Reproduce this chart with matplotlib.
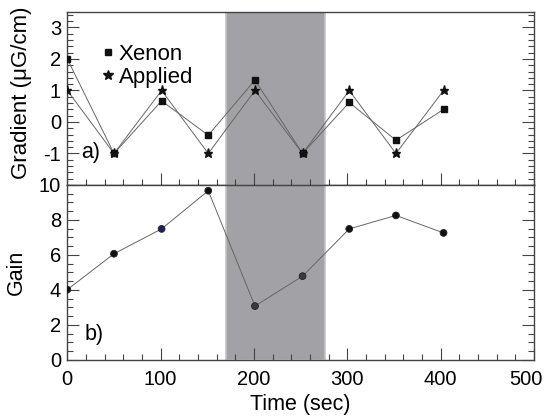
import numpy as np
import matplotlib
matplotlib.use("Agg")
import matplotlib.pyplot as plt
from matplotlib.lines import Line2D
from matplotlib.ticker import MultipleLocator, FixedFormatter

plt.rcParams['font.family'] = ['Liberation Sans', 'DejaVu Sans']
plt.rcParams['axes.unicode_minus'] = False

# data
time = [0, 50, 101, 151, 201, 252, 302, 352, 403]
xenon = [2.0, -1.0, 0.67, -0.42, 1.33, -1.0, 0.62, -0.58, 0.40]
applied = [1, -1, 1, -1, 1, -1, 1, -1, 1]
gain = [4.02, 6.07, 7.49, 9.67, 3.08, 4.79, 7.49, 8.26, 7.26]
gain_colors = ['#111111', '#111111', '#1c2060', '#111111', '#3a3a3a',
               '#3a3a3a', '#111111', '#111111', '#111111']
shade = (170, 276)
xticks = [0, 100, 200, 300, 400, 500]

fig = plt.figure(figsize=(5.45, 4.18), dpi=100)
ax1 = fig.add_axes([0.1235, 0.5574, 0.8565, 0.4146])
ax2 = fig.add_axes([0.1235, 0.1388, 0.8565, 0.4187])

line_kw = dict(color='#666666', lw=0.7)
for ax in (ax1, ax2):
	ax.axvspan(shade[0], shade[1], facecolor='#a2a2a6', edgecolor='#c4c4c4',
			   lw=1.2, zorder=0)
	ax.set_xlim(0, 500)
	ax.set_xticks(xticks)
	ax.xaxis.set_minor_locator(MultipleLocator(20))
	ax.tick_params(which='both', direction='in', right=True, top=False,
				   color='#444444', labelsize=14.5)
	ax.tick_params(which='major', length=8.5, width=0.8)
	ax.tick_params(which='minor', length=4.3, width=0.8)
	ax.tick_params(axis='y', pad=4.5)
	ax.tick_params(axis='x', pad=7)
	for s in ax.spines.values():
		s.set_color('#444444')
		s.set_linewidth(1.0)

# panel a
ax1.plot(time, xenon, **line_kw, zorder=2)
ax1.plot(time, applied, **line_kw, zorder=2)
ax1.plot(time, xenon, 's', color='#111111', ms=4.8, zorder=3)
ax1.plot(time, applied, '*', color='#111111', ms=6.5, zorder=3)
ax1.set_ylim(-2, 3.5)
ax1.yaxis.set_minor_locator(MultipleLocator(0.2))
ax1.set_yticks([-1, 0, 1, 2, 3])
ax1.set_xticklabels([])
ax1.spines['bottom'].set_color('#111111')
ax1.set_ylabel('Gradient (μG/cm)', fontsize=16)
ax1.text(0.03, 0.185, 'a)', transform=ax1.transAxes, fontsize=15.5, va='center')
handles = [Line2D([], [], ls='none', marker='s', color='#111111', ms=5),
		   Line2D([], [], ls='none', marker='*', color='#111111', ms=7)]
ax1.legend(handles, ['Xenon', 'Applied'], loc='upper left',
		   bbox_to_anchor=(0.075, 0.815), frameon=False, fontsize=16,
		   handlelength=0.5, handletextpad=0.25, labelspacing=0.08,
		   borderpad=0, borderaxespad=0)

# panel b
ax2.plot(time, gain, **line_kw, zorder=2)
ax2.scatter(time, gain, s=24, c=gain_colors, edgecolors='#222222',
			linewidths=0.6, zorder=3)
ax2.set_ylim(0, 10)
ax2.yaxis.set_major_locator(MultipleLocator(2))
ax2.yaxis.set_minor_locator(MultipleLocator(0.5))
ax2.set_ylabel('Gain', fontsize=15.5)
ax2.set_xlabel('Time (sec)', fontsize=15.5, labelpad=3.5)
ax2.text(0.038, 0.143, 'b)', transform=ax2.transAxes, fontsize=15.5, va='center')

# the last label sits pulled in at the right edge, like the original
ax2.xaxis.set_major_formatter(FixedFormatter([str(t) for t in xticks[:-1]] + ['']))
ax2.annotate(str(xticks[-1]), xy=(xticks[-1], 0), xycoords=('data', 'axes fraction'),
			 xytext=(-6, -7), textcoords='offset points', ha='center', va='top',
			 fontsize=14.5)

ax1.yaxis.set_label_coords(-0.076, 0.535)
ax2.yaxis.set_label_coords(-0.086, 0.5)

fig.savefig('out.png', dpi=100)
